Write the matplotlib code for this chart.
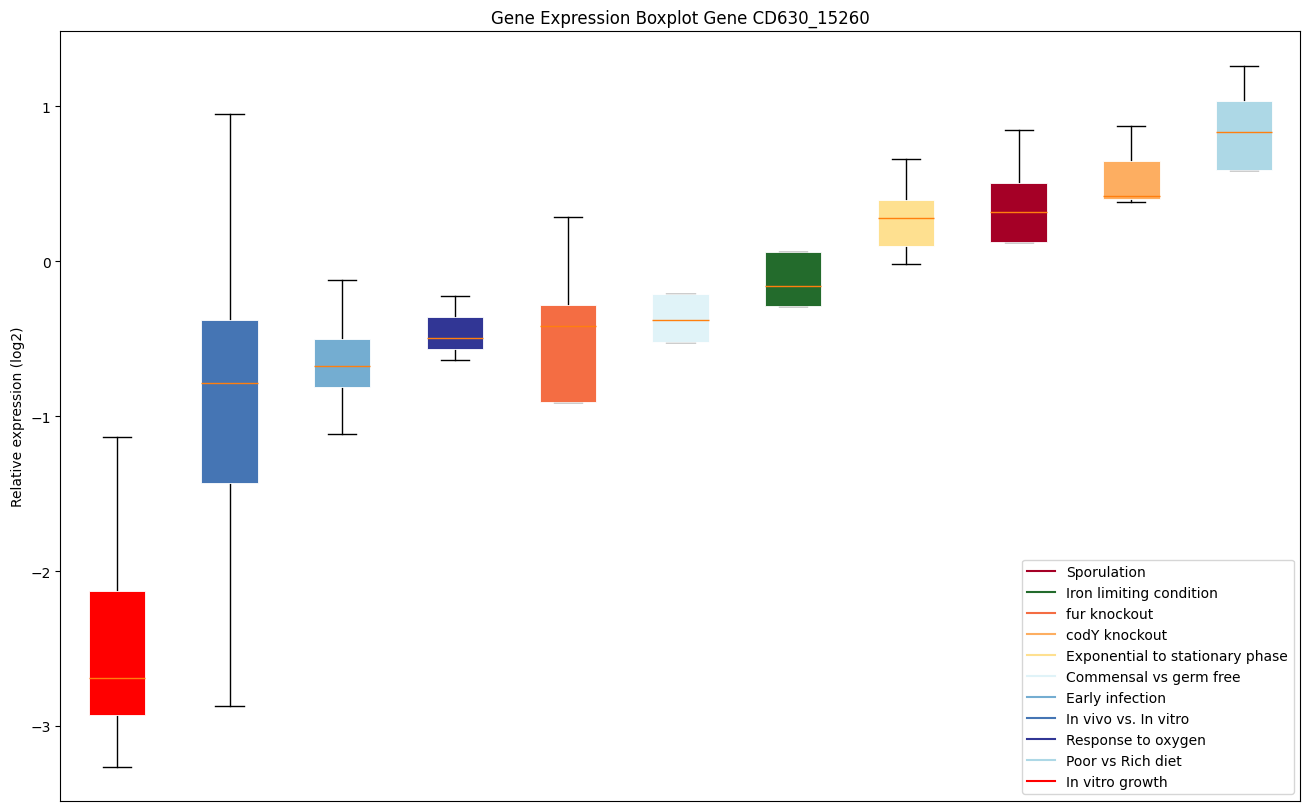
import matplotlib
matplotlib.use("Agg")
import matplotlib.pyplot as plt
from matplotlib.lines import Line2D

labels = ["In vitro growth", "In vivo vs. In vitro", "Early infection", "Response to oxygen",
          "fur knockout", "Commensal vs germ free", "Iron limiting condition",
          "Exponential to stationary phase", "Sporulation", "codY knockout", "Poor vs Rich diet"]
colors = ["#ff0000", "#4575b4", "#74add1", "#313695", "#f46d43", "#e0f3f8", "#236b2c",
          "#fee090", "#a50026", "#fdae61", "#add8e6"]
whislo = [-3.263, -2.869, -1.118, -0.640, -0.911, -0.523, -0.291, -0.019, 0.123, 0.381, 0.588]
q1     = [-2.927, -1.435, -0.814, -0.569, -0.911, -0.523, -0.291, 0.097, 0.123, 0.401, 0.588]
med    = [-2.688, -0.788, -0.679, -0.498, -0.420, -0.381, -0.162, 0.278, 0.317, 0.420, 0.834]
q3     = [-2.126, -0.381, -0.504, -0.362, -0.284, -0.213, 0.058, 0.394, 0.504, 0.646, 1.034]
whishi = [-1.137, 0.950, -0.123, -0.226, 0.284, -0.213, 0.058, 0.659, 0.847, 0.872, 1.260]

legend_order = ["Sporulation", "Iron limiting condition", "fur knockout", "codY knockout",
                "Exponential to stationary phase", "Commensal vs germ free", "Early infection",
                "In vivo vs. In vitro", "Response to oxygen", "Poor vs Rich diet", "In vitro growth"]

fig = plt.figure(figsize=(13.09, 8.12), dpi=100)
ax = fig.add_axes([0.0462, 0.0123, 0.9473, 0.9477])

stats = []
for i in range(len(labels)):
    stats.append(dict(label=labels[i], whislo=whislo[i], q1=q1[i], med=med[i],
                      q3=q3[i], whishi=whishi[i], fliers=[]))

bp = ax.bxp(stats, positions=range(1, len(labels) + 1), widths=0.5, patch_artist=True,
            showfliers=False,
            whiskerprops=dict(color="black", linewidth=1),
            capprops=dict(color="black", linewidth=1),
            medianprops=dict(color="#ff7f0e", linewidth=1))
for patch, c in zip(bp["boxes"], colors):
    patch.set_facecolor(c)
    patch.set_edgecolor("white")
    patch.set_linewidth(0.6)
    patch.set_zorder(3)
for m in bp["medians"]:
    m.set_zorder(4)

ax.set_xlim(0.5, 11.5)
ax.set_ylim(-3.484, 1.481)
ax.set_xticks([])
ax.set_yticks([-3, -2, -1, 0, 1])
ax.set_title("Gene Expression Boxplot Gene CD630_15260")
ax.set_ylabel("Relative expression (log2)")

handles = [Line2D([], [], color=colors[labels.index(l)], lw=1.5) for l in legend_order]
ax.legend(handles, legend_order, loc="lower right")

fig.savefig("out.png", dpi=100)
